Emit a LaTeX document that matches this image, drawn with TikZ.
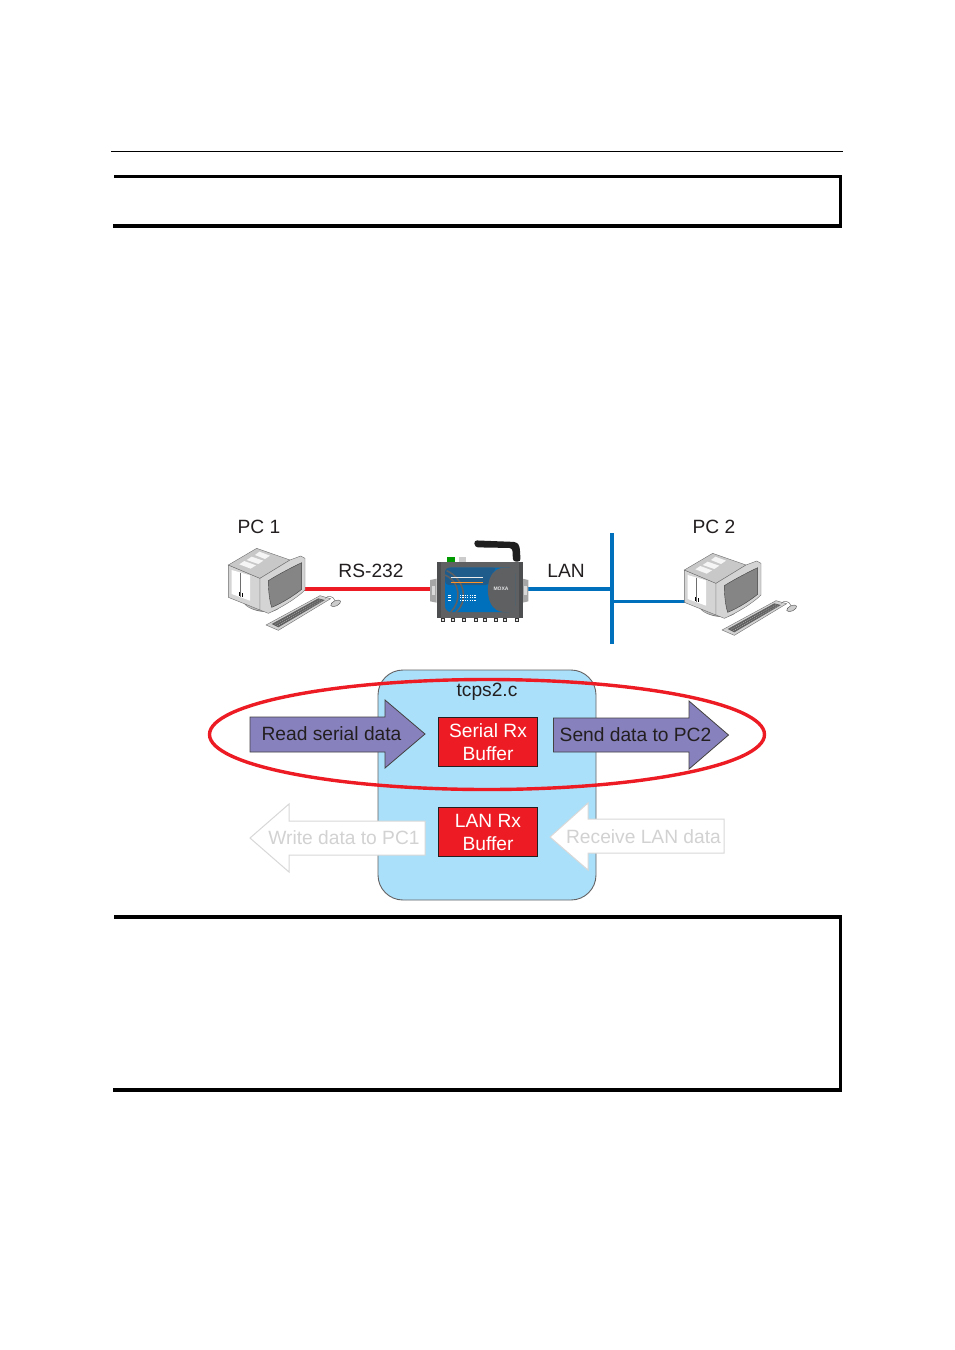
\documentclass[tikz,border=0pt]{standalone}
\usepackage{fontspec}
\setmainfont{Liberation Sans}
\definecolor{inkc}{HTML}{231F20}
\definecolor{redc}{HTML}{ED1C24}
\definecolor{bluec}{HTML}{0070BC}
\definecolor{skyc}{HTML}{AAE0FA}
\definecolor{purp}{HTML}{8781BD}
\definecolor{ghost}{HTML}{D8D8D8}
\definecolor{ghosttext}{HTML}{D2D2D2}
\definecolor{caseg}{HTML}{D4D4D4}
\definecolor{topg}{HTML}{C8C8C8}
\definecolor{lineg}{HTML}{6E6E6E}
\definecolor{screeng}{HTML}{858585}
\definecolor{devbody}{HTML}{4C4E50}
\definecolor{devface}{HTML}{5E6062}
\definecolor{devband}{HTML}{1F5C8C}
\tikzset{
  lab/.style={font=\fontsize{19.2}{23}\selectfont,text=inkc,inner sep=0pt,align=center},
  ghostlab/.style={lab,text=ghosttext},
  bufbox/.style={draw=inkc,line width=0.8pt,fill=redc,minimum width=99pt,minimum height=49.5pt,inner sep=0pt,
     font=\fontsize{19.2}{23}\selectfont,text=white,align=center},
  frameline/.style={black,line width=3.4pt},
  redlink/.style={redc,line width=3.6pt},
  bluelink/.style={bluec,line width=3.3pt},
  solidarrow/.style={draw=inkc!85,fill=purp,line width=0.8pt,line join=miter},
  ghostarrow/.style={draw=ghost,fill=white,line width=1pt},
  pcline/.style={draw=lineg,line width=0.4pt},
}
\newcommand{\pcshape}{%
  % stand
  \fill[lineg] (98,272) .. controls (105,305) and (200,322) .. (214,285) -- cycle;
  \fill[gray!55] (108,286) .. controls (125,300) and (175,312) .. (205,296) -- (190,280) -- cycle;
  % side face
  \fill[caseg,pcline] (55,165) -- (150,205) -- (150,300) -- (55,262) -- cycle;
  \fill[white] (65,180) -- (120,196) -- (120,272) -- (65,252) -- cycle;
  \draw[lineg,line width=0.4pt] (90,188) -- (90,262);
  \draw[black,line width=0.6pt] (88,246) -- (88,257) (96,249) -- (96,260);
  % top face
  \fill[topg,pcline] (55,165) -- (140,115) -- (240,150) -- (150,205) -- cycle;
  \fill[white!92!gray] (135,135) -- (148,125) -- (180,137) -- (165,147) -- cycle;
  \fill[white!92!gray] (110,150) -- (125,140) -- (160,152) -- (145,162) -- cycle;
  \fill[white!92!gray] (88,163) -- (103,153) -- (138,166) -- (122,176) -- cycle;
  % bezel
  \fill[caseg,pcline] (150,205) -- (240,150) -- (272,138) -- (285,145) -- (285,240)
     .. controls (260,265) and (210,295) .. (175,310) -- (150,300) -- cycle;
  \fill[screeng,draw=gray!50!black,line width=0.4pt] (175,212) .. controls (210,190) and (250,170) .. (275,158) -- (275,238)
     .. controls (250,258) and (215,280) .. (185,292) .. controls (178,270) and (175,240) .. (175,212) -- cycle;
  % keyboard
  \fill[gray!35,pcline] (168,345) -- (330,257) -- (362,266) -- (205,361) -- cycle;
  \fill[black!62] (185,342) -- (325,265) -- (345,270) -- (205,352) -- cycle;
  \draw[gray!40,line width=0.3pt,dash pattern=on 1pt off 1pt] (195,343) -- (332,268);
  \draw[gray!40,line width=0.3pt,dash pattern=on 1pt off 1pt] (202,347) -- (338,271);
  % cord and mouse
  \draw[lineg,line width=0.5pt] (345,265) .. controls (355,255) and (370,258) .. (375,272);
  \fill[gray!40,draw=black!70,line width=0.4pt,rotate around={25:(377,280)}] (377,280) ellipse (16 and 8);
}
\begin{document}
\begin{tikzpicture}[x=1pt,y=-1pt]
\useasboundingbox (0,0) rectangle (954,1350);
\fill[white] (0,0) rectangle (954,1350);

% page rule and frames
\coordinate (ruleL) at (111,151.5); \coordinate (ruleR) at (843,151.5);
\draw[black,line width=1pt] (ruleL) -- (ruleR);
\coordinate (ta) at (114,176.5); \coordinate (tb) at (840.5,176.5);
\coordinate (tc) at (840.5,226); \coordinate (td) at (113,226);
\draw[frameline,line join=miter] (ta) -- (tb) -- (tc) -- (td);
\coordinate (ba) at (114,917); \coordinate (bb) at (840.5,917);
\coordinate (bc) at (840.5,1090); \coordinate (bd) at (113,1090);
\draw[frameline,line join=miter] (ba) -- (bb) -- (bc) -- (bd);

% connectors
\coordinate (pc1port) at (301,589);
\coordinate (devL) at (432,589);
\coordinate (devR) at (525,589);
\coordinate (busTap) at (612,589);
\coordinate (busTop) at (612,533);
\coordinate (busBot) at (612,643.5);
\coordinate (busTap2) at (612,601.5);
\coordinate (pc2port) at (687,601.5);
\draw[redlink] (pc1port) -- (devL);
\draw[bluelink] (devR) -- (busTap);
\draw[bluelink] (busTop) -- (busBot);
\draw[bluec,line width=2.8pt] (busTap2) -- (pc2port);

% PCs
\begin{scope}[shift={(210,510)},scale=1/3] \pcshape \end{scope}
\begin{scope}[shift={(666,515)},scale=1/3] \pcshape \end{scope}

% device
\begin{scope}[shift={(420,530)},scale=1/3]
  \fill[black!88,rounded corners=3pt] (162,31) -- (290,36) -- (299,48) -- (302,95) -- (279,95) -- (277,54) -- (165,52) -- cycle;
  \fill[green!60!black] (82,82) rectangle (105,95);
  \fill[gray!40] (118,82) rectangle (138,95);
  \fill[gray!70] (30,150) -- (50,146) -- (50,218) -- (30,214) -- cycle;
  \fill[gray!30] (35,168) rectangle (45,195);
  \fill[gray!70] (325,150) -- (308,146) -- (308,218) -- (325,214) -- cycle;
  \fill[gray!30] (312,168) rectangle (322,195);
  \foreach \cx in {65,95,128,162,190,222,250,285} {\fill[gray!20,draw=black!80,line width=0.4pt] (\cx,264) rectangle ++(9,11);}
  \fill[devbody] (50,95) rectangle (308,265);
  \fill[devface] (62,95) rectangle (296,265);
  \fill[bluec,rounded corners=6pt] (75,113) rectangle (285,246);
  \fill[devband,rounded corners=4pt] (75,113) -- (232,113) .. controls (220,125) and (212,145) .. (208,165) -- (75,165) -- cycle;
  \fill[devface,rounded corners=4pt] (285,113) -- (240,113) .. controls (195,140) and (195,220) .. (240,246) -- (285,246) -- cycle;
  \draw[devface,line width=1.6pt] (75,135) .. controls (122,155) and (125,215) .. (92,246);
  \draw[devface,line width=1.6pt] (80,122) .. controls (140,150) and (142,220) .. (108,246);
  \draw[white!85!gray,line width=0.9pt] (92,143) -- (190,143);
  \draw[orange!85,line width=0.7pt] (92,156) -- (190,156);
  \foreach \ry in {195,203,211} {\draw[white,line width=0.6pt,dash pattern=on 1.2pt off 1.2pt] (120,\ry) -- (170,\ry); \draw[white,line width=0.9pt] (85,\ry) -- (94,\ry);}
  \node[inner sep=0pt,text=white!80!gray,font=\fontsize{5}{5}\selectfont\bfseries] (moxa) at (243,177) {MOXA};
\end{scope}

% labels of the upper part
\node[lab] (pc1) at (259,527) {PC 1};
\node[lab] (pc2) at (714,527) {PC 2};
\node[lab] (rs) at (371,571) {RS-232};
\node[lab] (lan) at (566,571) {LAN};

% program box
\draw[draw=inkc!70,fill=skyc,line width=0.9pt,rounded corners=25pt] (378,670) rectangle (596,900);
\node[lab] (tcps) at (487,692) {tcps2.c};

% buffers
\node[bufbox] (serial) at (488,741.8) {Serial Rx\\Buffer};
\node[bufbox] (lanbuf) at (488,832) {LAN Rx\\Buffer};

% solid arrows
\draw[solidarrow] (250,717) -- (385,717) -- (385,700) -- (425,734) -- (385,768) -- (385,752) -- (250,752) -- cycle;
\node[lab] (read) at (331.5,733.5) {Read serial data};
\draw[solidarrow] (553.5,718) -- (689,718) -- (689,701) -- (728.5,735) -- (689,769) -- (689,752) -- (553.5,752) -- cycle;
\node[lab] (send) at (635.5,734.5) {Send data to PC2};

% ghost arrows
\draw[ghostarrow] (425,821) -- (289,821) -- (289,804) -- (250,838) -- (289,872) -- (289,855) -- (425,855) -- cycle;
\node[ghostlab] (write) at (344,837.5) {Write data to PC1};
\draw[ghostarrow] (724,819) -- (588,819) -- (588,803) -- (550,837) -- (588,870) -- (588,853) -- (724,853) -- cycle;
\node[ghostlab] (recv) at (643.5,836.5) {Receive LAN data};

% highlight
\draw[redc,line width=3.4pt] (487,734.5) ellipse (277.5 and 55);
\end{tikzpicture}
\end{document}
